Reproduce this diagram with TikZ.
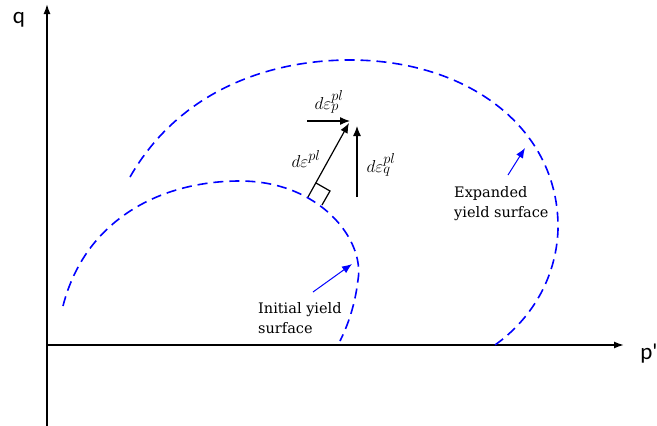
\documentclass[tikz,border=0pt]{standalone}
\usepackage{fontspec}
\setmainfont{DejaVu Serif}
\newfontfamily\axisfont{Carlito}
\usetikzlibrary{arrows.meta}
\begin{document}
\begin{tikzpicture}[x=1pt, y=-1pt, >=latex,
  axis/.style={-{Latex[length=10pt,width=7pt]}, line width=1.6pt},
  yieldsurf/.style={blue, dash pattern=on 10pt off 6pt, line width=1.6pt},
  pointer/.style={-{Latex[length=10pt,width=8pt]}, blue, line width=1pt},
  strain/.style={-{Latex[length=10pt,width=8pt]}, line width=1.2pt},
  note/.style={font=\fontsize{14.5}{20.5}\selectfont, align=left, anchor=north west, inner sep=0pt},
  mathlbl/.style={font=\fontsize{19}{21}\selectfont, inner sep=0pt}]
\useasboundingbox (0,0) rectangle (657,426);
% axes
\coordinate (orig) at (47,345);
\coordinate (ybot) at (47,426);
\coordinate (ytop) at (47,4);
\coordinate (xend) at (624,345);
\draw[line width=1.6pt] (ybot) -- (orig);
\draw[axis] (orig) -- (ytop);
\draw[axis] (orig) -- (xend);
\node[font=\axisfont\fontsize{23}{26}\selectfont] (qlbl) at (19,20) {q};
\node[font=\axisfont\fontsize{23}{26}\selectfont] (plbl) at (649,354) {p'};
% yield surfaces
\draw[yieldsurf] (63,306) .. controls (85,220) and (160,181) .. (240,181)
  .. controls (320,181) and (365,240) .. (358,280)
  .. controls (355,305) and (348,325) .. (340,341);
\draw[yieldsurf] (130,177) .. controls (180,90) and (270,60) .. (350,60)
  .. controls (470,60) and (560,130) .. (558,230)
  .. controls (556,280) and (530,320) .. (495,345);
% strain increments
\coordinate (baseE) at (308,197);
\coordinate (tipE) at (349,123);
\coordinate (baseP) at (307,121);
\coordinate (tipP) at (350,121);
\coordinate (baseQ) at (357,197);
\coordinate (tipQ) at (357,126);
\draw[strain] (baseE) -- (tipE);
\draw[strain] (baseP) -- (tipP);
\draw[strain] (baseQ) -- (tipQ);
\draw[line width=1.2pt] (316,183) -- (330,191) -- (322,205);
\node[mathlbl] (epsP) at (329,102) {$d\varepsilon_p^{pl}$};
\node[mathlbl] (epsE) at (306,159) {$d\varepsilon^{pl}$};
\node[mathlbl] (epsQ) at (381,165) {$d\varepsilon_q^{pl}$};
% labels
\node[note] (initlbl) at (258,302) {Initial yield\\surface};
\node[note] (explbl) at (454,186) {Expanded\\yield surface};
\coordinate (initfrom) at (313,292);
\coordinate (initto) at (352,264);
\coordinate (expfrom) at (508,175);
\coordinate (expto) at (525,148);
\draw[pointer] (initfrom) -- (initto);
\draw[pointer] (expfrom) -- (expto);
\end{tikzpicture}
\end{document}
